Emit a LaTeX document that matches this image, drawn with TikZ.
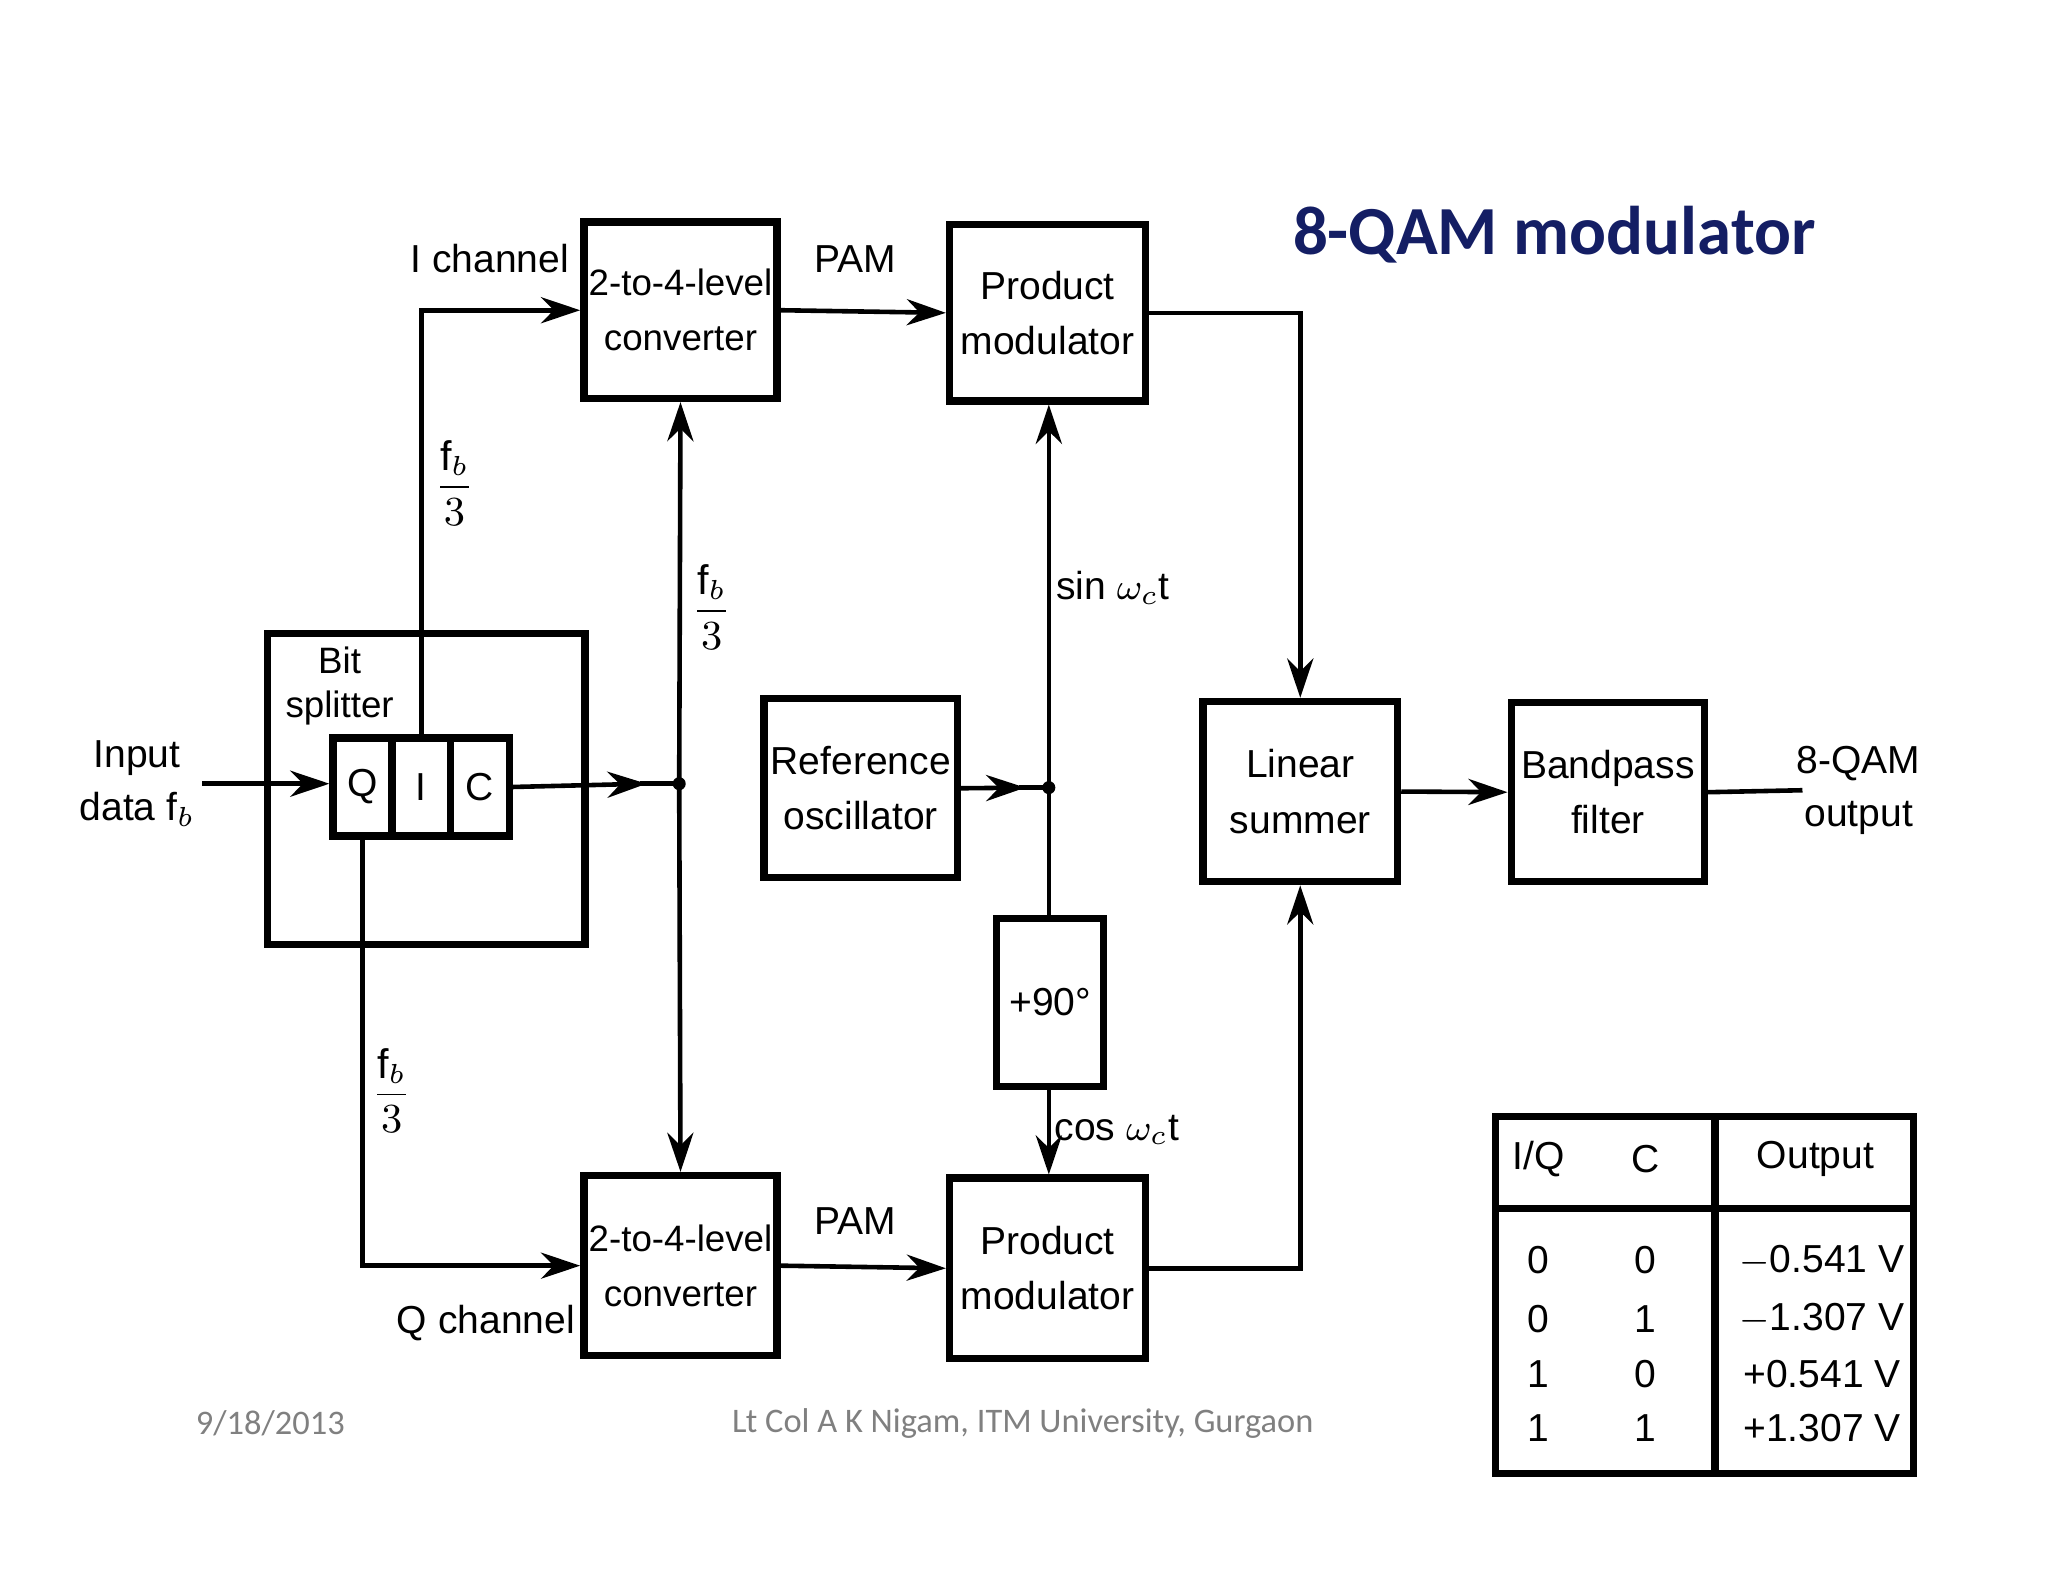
\documentclass[tikz,border=0pt]{standalone}
\usepackage{amsmath}
\usepackage{fontspec}
\setmainfont{Liberation Sans}
\newfontfamily\titlefont{Carlito}
\usetikzlibrary{arrows.meta}
\begin{document}
\begin{tikzpicture}[>={Stealth[length=3mm,width=2mm]}, line width=1pt,
    blk/.style={draw, line width=1.6pt, align=center, inner sep=0pt,
      font=\fontsize{8.5}{12}\selectfont},
    lbl/.style={font=\fontsize{8.5}{11.5}\selectfont, align=center},
    frac/.style={font=\fontsize{9}{10}\selectfont, align=center},
    foot/.style={font=\titlefont\fontsize{7.5}{9}\selectfont, text=gray}]
  \useasboundingbox (0,0) rectangle (15.68,-12.11);

  % title and footer
  \node[font=\titlefont\bfseries\fontsize{15}{18}\selectfont, text={rgb,255:red,20;green,30;blue,100}] (title) at (11.9,-1.8) {8-QAM modulator};
  \node[foot] (date) at (2.07,-10.9) {9/18/2013};
  \node[foot] (auth) at (7.83,-10.9) {Lt Col A K Nigam, ITM University, Gurgaon};

  % bit splitter
  \node[blk, minimum width=2.43cm, minimum height=2.38cm] (split) at (3.265,-6.04) {};
  \node[lbl, font=\fontsize{8}{9.5}\selectfont] (splitl) at (2.6,-5.25) {Bit\\splitter};
  \node[blk, minimum width=0.45cm, minimum height=0.75cm] (q) at (2.775,-6.025) {Q};
  \node[blk, minimum width=0.45cm, minimum height=0.75cm] (i) at (3.225,-6.025) {I};
  \node[blk, minimum width=0.45cm, minimum height=0.75cm] (c) at (3.675,-6.025) {C};

  % blocks
  \node[blk, minimum width=1.48cm, minimum height=1.35cm, font=\fontsize{8}{12}\selectfont] (convI) at (5.21,-2.375) {2-to-4-level\\converter};
  \node[blk, minimum width=1.48cm, minimum height=1.38cm, font=\fontsize{8}{12}\selectfont] (convQ) at (5.21,-9.69) {2-to-4-level\\converter};
  \node[blk, minimum width=1.50cm, minimum height=1.35cm] (prodI) at (8.02,-2.395) {Product\\modulator};
  \node[blk, minimum width=1.50cm, minimum height=1.38cm] (prodQ) at (8.02,-9.71) {Product\\modulator};
  \node[blk, minimum width=1.48cm, minimum height=1.37cm] (osc) at (6.59,-6.035) {Reference\\oscillator};
  \node[blk, minimum width=0.82cm, minimum height=1.29cm] (shift) at (8.04,-7.675) {+90\textdegree};
  \node[blk, minimum width=1.49cm, minimum height=1.38cm] (sum) at (9.955,-6.06) {Linear\\summer};
  \node[blk, minimum width=1.48cm, minimum height=1.37cm] (bpf) at (12.31,-6.065) {Bandpass\\filter};

  % labels
  \node[lbl] (inl) at (1.05,-6.0) {Input\\data f$_b$};
  \node[lbl] (ich) at (3.75,-1.98) {I channel};
  \node[lbl] (qch) at (3.72,-10.13) {Q channel};
  \node[lbl] (pam1) at (6.55,-1.98) {PAM};
  \node[lbl] (pam2) at (6.55,-9.35) {PAM};
  \node[frac] (f1) at (3.48,-3.7) {$\dfrac{\mathrm{f}_b}{3}$};
  \node[frac] (f2) at (5.45,-4.65) {$\dfrac{\mathrm{f}_b}{3}$};
  \node[frac] (f3) at (3.0,-8.35) {$\dfrac{\mathrm{f}_b}{3}$};
  \node[lbl] (sinl) at (8.52,-4.5) {sin $\omega_c$t};
  \node[lbl] (cosl) at (8.55,-8.65) {cos $\omega_c$t};
  \node[lbl] (outl) at (14.23,-6.05) {8-QAM\\output};

  % connectors
  \coordinate (inS) at (1.55,-6.0);
  \coordinate (jc) at (5.2,-6.0);
  \coordinate (jo) at (8.03,-6.03);
  \coordinate (outE) at (13.8,-6.05);
  \draw[->] (inS) -- (q.west |- inS);
  \draw[->] (i.north) |- (convI.west);
  \draw[->] (q.south) |- (convQ.west);
  \draw[->] (c.east) -- (4.95,-6.0);
  \draw (4.9,-6.0) -- (jc);
  \fill (jc) circle (0.05);
  \draw[->] (jc) -- (convI.south);
  \draw[->] (jc) -- (convQ.north);
  \draw[->] (convI.east) -- (prodI.west);
  \draw[->] (convQ.east) -- (prodQ.west);
  \draw[->] (osc.east) -- (7.85,-6.03);
  \draw (7.8,-6.03) -- (jo);
  \fill (jo) circle (0.05);
  \draw[->] (jo) -- (prodI.south -| jo);
  \draw (jo) -- (shift.north -| jo);
  \draw[->] (shift.south -| jo) -- (prodQ.north -| jo);
  \draw[->] (prodI.east) -| (sum.north);
  \draw[->] (prodQ.east) -| (sum.south);
  \draw[->] (sum.east) -- (bpf.west);
  \draw (bpf.east) -- (outE);

  % table
  \node[draw, line width=1.6pt, minimum width=3.2cm, minimum height=2.73cm, inner sep=0pt] (tab) at (13.05,-9.915) {};
  \draw[line width=1.6pt] (13.13,-8.55) -- (13.13,-11.28);
  \draw[line width=1.6pt] (11.45,-9.25) -- (14.65,-9.25);
  \foreach \x/\t in {11.78/{I/Q}, 12.6/C, 13.9/Output}
    \node[lbl] at (\x,-8.87) {\t};
  \foreach \y/\a/\b/\o in {9.65/0/0/{$-$0.541 V}, 10.1/0/1/{$-$1.307 V}, 10.52/1/0/{+0.541 V}, 10.93/1/1/{+1.307 V}}{
    \node[lbl] at (11.78,-\y) {\a};
    \node[lbl] at (12.6,-\y) {\b};
    \node[lbl] at (13.95,-\y) {\o};
  }
\end{tikzpicture}
\end{document}
